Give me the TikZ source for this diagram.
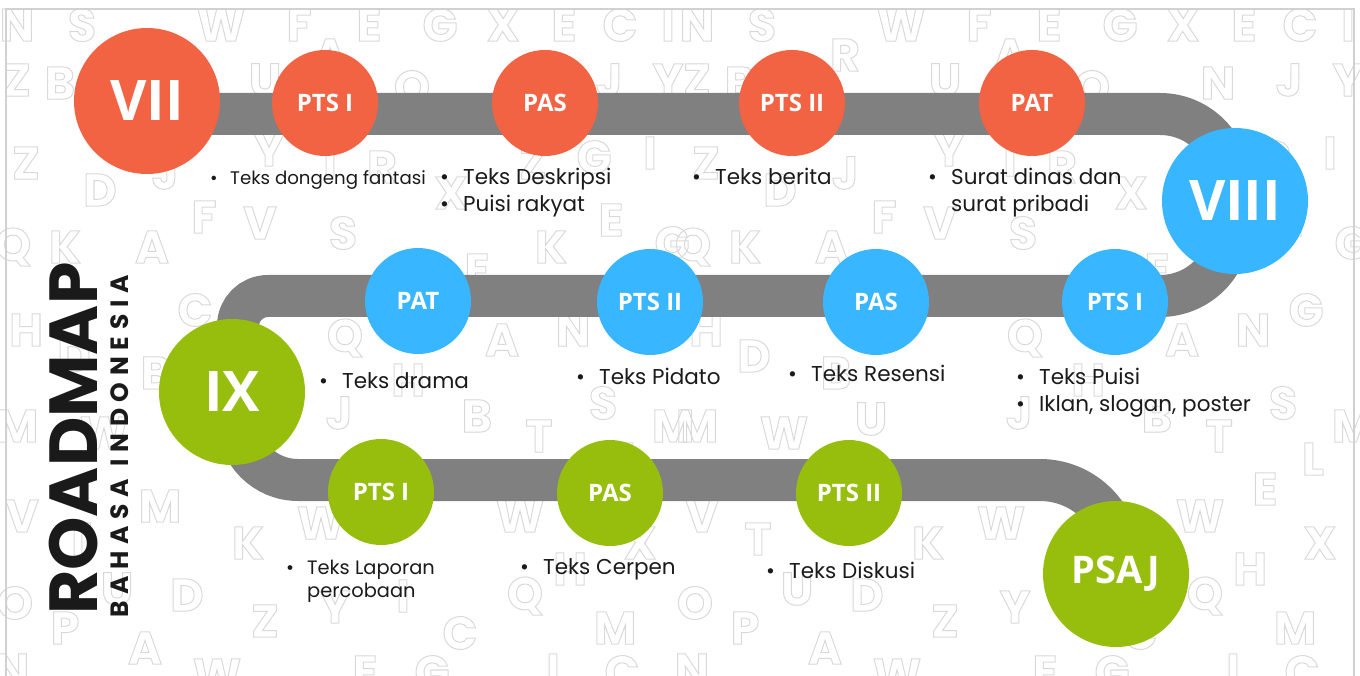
\documentclass[tikz,border=0pt]{standalone}
\usepackage{fontspec}
\setmainfont{Poppins}
\newfontfamily\circlefont{Open Sans}
\usetikzlibrary{positioning}
\definecolor{roadred}{HTML}{F26343}
\definecolor{roadblue}{HTML}{38B6FF}
\definecolor{roadgreen}{HTML}{97BE0D}
\definecolor{roadgray}{HTML}{808080}
\definecolor{inkblack}{HTML}{1A1A1A}
\newcommand{\bigsize}{146pt}
\newcommand{\smallsize}{106pt}
\newcommand{\bul}{\makebox[23pt][l]{\textbullet}}
\newcommand{\nobul}{\hspace*{23pt}}
\newcommand{\hollow}[1]{\special{pdf:literal direct 1 Tr 1 w}#1\special{pdf:literal direct 0 Tr}}
\tikzstyle{grade} = [% big class circle
  circle,
  minimum size=\bigsize,
  inner sep=0pt,
  text=white,
  font=\circlefont\bfseries\fontsize{56}{56}\selectfont
  ]
\tikzstyle{exam} = [% small exam circle
  circle,
  minimum size=\smallsize,
  inner sep=0pt,
  text=white,
  font=\circlefont\bfseries\fontsize{24}{24}\selectfont
  ]
\tikzstyle{topic} = [% bullet text under a circle
  anchor=base west,
  inner sep=0pt,
  text=inkblack,
  font=\fontsize{21.5}{27}\selectfont
  ]
\tikzstyle{road} = [% grey track
  line width=42pt,
  draw=roadgray
  ]
\tikzstyle{bgletter} = [% faint letter in the background
  text=black!15,
  inner sep=0pt,
  font=\bfseries\fontsize{46}{46}\selectfont
  ]

\begin{document}
\begin{tikzpicture}[x=1pt, y=-1pt]
\useasboundingbox (0,0) rectangle (1360,676);

%%% Background letters
\foreach \dx in {0,680}{
  \foreach \lx/\ly/\ch in {17/25/N, 82/25/S, 221/25/W, 299/25/F, 369/25/E, 440/25/G, 503/25/X, 564/25/E, 620/25/C, 668/25/I,
    17/80/Z, 60/83/B, 165/55/R, 265/80/U, 330/55/A, 412/87/O, 538/83/N, 609/80/J, 668/80/Y,
    26/163/Z, 100/190/D, 165/173/J, 269/150/Y, 330/160/I, 382/167/R, 451/193/X, 533/163/Z, 594/157/G, 650/153/I,
    13/247/Q, 65/247/K, 152/247/A, 204/217/F, 260/223/V, 343/233/S, 477/270/E, 551/247/K, 611/220/E, 672/243/G,
    26/330/H, 74/356/D, 195/310/C, 345/338/Q, 502/340/A, 573/330/N, 626/310/G,
    17/426/M, 104/433/W, 156/373/B, 191/419/U, 339/413/J, 408/380/H, 477/416/B, 539/436/T, 603/403/S, 673/426/M,
    22/516/V, 78/539/T, 160/506/M, 248/543/K, 321/523/W, 520/516/W, 585/489/E, 633/459/L, 640/543/X, 570/569/H,
    15/603/O, 65/628/P, 117/589/U, 187/595/D, 265/621/Z, 335/607/Y, 403/596/I, 460/633/C, 525/596/Q, 615/628/M,
    12/670/N, 145/648/A, 217/675/W, 365/672/E, 432/672/G, 553/670/I, 622/672/C}{
    \node[bgletter] (bg-\dx-\lx-\ly) at (\lx+\dx,\ly) {\hollow{\ch}};
  }
}

%%% Frame
\draw[black!18, line width=2pt] (6,676) -- (6,9) -- (1354,9) -- (1354,676);

%%% Track
\draw[road] (147,114) -- (1160,114)
  arc[start angle=-90, end angle=0, radius=70] -- (1230,226)
  arc[start angle=0, end angle=90, radius=70] -- (268,296)
  arc[start angle=-90, end angle=-180, radius=30] -- (238,420)
  arc[start angle=180, end angle=90, radius=60] -- (1040,480)
  arc[start angle=-90, end angle=0, radius=80] -- (1120,573);

%%% Class VII
\node[grade, fill=roadred] (vii) at (147,101) {VII};
\node[exam, fill=roadred] (vii-ptsi) at (325,103) {PTS I};
\node[exam, fill=roadred] (vii-pas) at (545,103) {PAS};
\node[exam, fill=roadred] (vii-ptsii) at (792,103) {PTS II};
\node[exam, fill=roadred] (vii-pat) at (1032,103) {PAT};

%%% Class VIII
\node[grade, fill=roadblue] (viii) at (1235,201) {VIII};
\node[exam, fill=roadblue] (viii-ptsi) at (1115,302) {PTS I};
\node[exam, fill=roadblue] (viii-pas) at (876,302) {PAS};
\node[exam, fill=roadblue] (viii-ptsii) at (650,302) {PTS II};
\node[exam, fill=roadblue] (viii-pat) at (418,301) {PAT};

%%% Class IX
\node[grade, fill=roadgreen] (ix) at (232,392) {IX};
\node[exam, fill=roadgreen] (ix-ptsi) at (381,492) {PTS I};
\node[exam, fill=roadgreen] (ix-pas) at (610,493) {PAS};
\node[exam, fill=roadgreen] (ix-ptsii) at (849,493) {PTS II};
\node[grade, fill=roadgreen, font=\circlefont\bfseries\fontsize{38}{38}\selectfont] (psaj) at (1116,574) {PSAJ};

%%% Topics
\node[topic, font=\fontsize{18.2}{24}\selectfont] (vii-t1) at (210,185) {\makebox[20pt][l]{\textbullet}Teks dongeng fantasi};
\node[topic] (vii-t2) at (440,185) {\begin{tabular}[t]{@{}l@{}}\bul Teks Deskripsi\\ \bul Puisi rakyat\end{tabular}};
\node[topic] (vii-t3) at (692,185) {\bul Teks berita};
\node[topic] (vii-t4) at (928,185) {\begin{tabular}[t]{@{}l@{}}\bul Surat dinas dan\\ \nobul surat pribadi\end{tabular}};

\node[topic] (viii-t1) at (1016,384) {\begin{tabular}[t]{@{}l@{}}\bul Teks Puisi\\ \bul Iklan, slogan, poster\end{tabular}};
\node[topic] (viii-t2) at (788,381) {\bul Teks Resensi};
\node[topic] (viii-t3) at (576,384) {\bul Teks Pidato};
\node[topic] (viii-t4) at (319,388) {\bul Teks drama};

\node[topic, font=\fontsize{19.4}{23}\selectfont] (ix-t1) at (286,574) {\begin{tabular}[t]{@{}l@{}}\makebox[21pt][l]{\textbullet}Teks Laporan\\ \hspace*{21pt}percobaan\end{tabular}};
\node[topic] (ix-t2) at (520,574) {\bul Teks Cerpen};
\node[topic] (ix-t3) at (766,578) {\bul Teks Diskusi};

%%% Title
\node[rotate=90, anchor=base west, inner sep=0pt, text=inkblack,
  font=\bfseries\fontsize{68}{68}\selectfont] (title) at (97,615) {ROADMAP};
\node[rotate=90, anchor=base west, inner sep=0pt, text=inkblack,
  font=\bfseries\fontsize{25}{25}\selectfont\addfontfeature{LetterSpace=27}] (subtitle) at (128,618) {BAHASA INDONESIA};

\end{tikzpicture}
\end{document}
